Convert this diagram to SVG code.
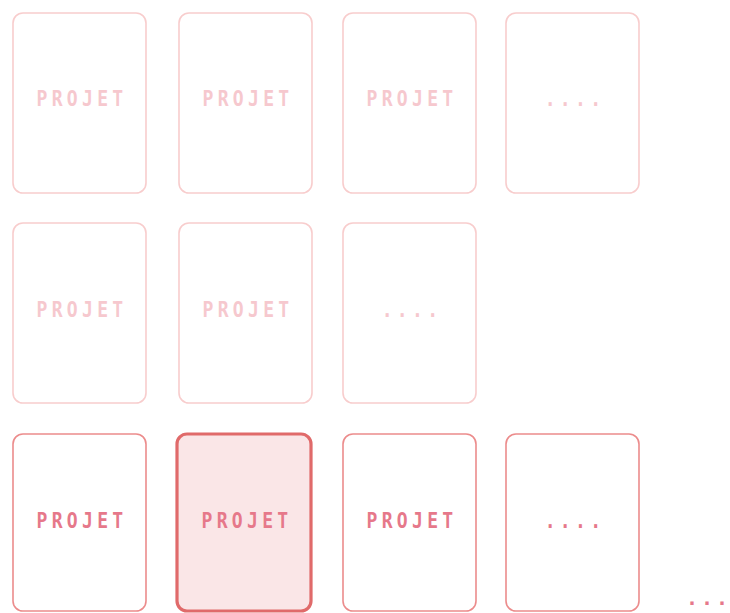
<svg xmlns="http://www.w3.org/2000/svg" width="730" height="613" viewBox="0 0 730 613">
<style>
.card{fill:#ffffff;stroke-width:1.6}
.faint{stroke:#f8cdcd}
.mid{stroke:#ec8c8c}
.sel{fill:#fae6e7;stroke:#e06a6a;stroke-width:3.2}
.lbl{font-family:"DejaVu Sans Mono","Liberation Mono",monospace;font-size:21px;font-weight:bold;letter-spacing:5px;text-anchor:middle}
.tf{fill:#f6c8ce}
.tm{fill:#e6788a}
</style>
<rect width="730" height="613" fill="#ffffff"/>
<g id="r1c1"><rect class="card faint" x="13" y="13" width="133" height="180" rx="10"/><text class="lbl tf" transform="translate(82,106) scale(0.86,1)">PROJET</text></g>
<g id="r1c2"><rect class="card faint" x="179" y="13" width="133" height="180" rx="10"/><text class="lbl tf" transform="translate(248,106) scale(0.86,1)">PROJET</text></g>
<g id="r1c3"><rect class="card faint" x="343" y="13" width="133" height="180" rx="10"/><text class="lbl tf" transform="translate(412,106) scale(0.86,1)">PROJET</text></g>
<g id="r1c4"><rect class="card faint" x="506" y="13" width="133" height="180" rx="10"/><text class="lbl tf" transform="translate(575,106) scale(0.86,1)">....</text></g>
<g id="r2c1"><rect class="card faint" x="13" y="223" width="133" height="180" rx="10"/><text class="lbl tf" transform="translate(82,317) scale(0.86,1)">PROJET</text></g>
<g id="r2c2"><rect class="card faint" x="179" y="223" width="133" height="180" rx="10"/><text class="lbl tf" transform="translate(248,317) scale(0.86,1)">PROJET</text></g>
<g id="r2c3"><rect class="card faint" x="343" y="223" width="133" height="180" rx="10"/><text class="lbl tf" transform="translate(412,317) scale(0.86,1)">....</text></g>
<g id="r3c1"><rect class="card mid" x="13" y="434" width="133" height="177" rx="10"/><text class="lbl tm" transform="translate(82,528) scale(0.86,1)">PROJET</text></g>
<g id="r3c2"><rect class="card sel" x="177" y="434" width="134" height="177" rx="10"/><text class="lbl tm" transform="translate(247,528) scale(0.86,1)">PROJET</text></g>
<g id="r3c3"><rect class="card mid" x="343" y="434" width="133" height="177" rx="10"/><text class="lbl tm" transform="translate(412,528) scale(0.86,1)">PROJET</text></g>
<g id="r3c4"><rect class="card mid" x="506" y="434" width="133" height="177" rx="10"/><text class="lbl tm" transform="translate(575,528) scale(0.86,1)">....</text></g>
<g id="more"><text class="lbl tm" x="686" y="605" style="text-anchor:start;letter-spacing:3px;font-size:20px">...</text></g>
<g id="connectors"></g>
</svg>
